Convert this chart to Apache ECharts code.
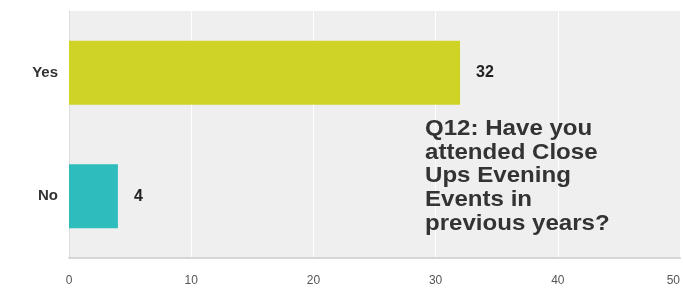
<!DOCTYPE html>
<html>
<head>
<meta charset="utf-8">
<script src="https://cdn.jsdelivr.net/npm/echarts@6/dist/echarts.min.js"></script>
<style>
  html, body { margin: 0; padding: 0; background: #fff; }
  #chart { width: 683px; height: 293px; }
</style>
</head>
<body>
<div id="chart"></div>
<script>
// survey answers, bottom to top as echarts draws category axes
var answers = ['No', 'Yes'];
var counts = [4, 32];
var barColors = ['#2ebcbd', '#cfd326'];
var xTicks = [0, 10, 20, 30, 40, 50];
var question = 'Q12: Have you\nattended Close\nUps Evening\nEvents in\nprevious years?';

var chart = echarts.init(document.getElementById('chart'));

var option = {
  animation: false,
  // question text sits inside the plot, slightly wide like the original
  graphic: [{
    type: 'text',
    left: 425,
    top: 117,
    scaleX: 1.12,
    z: 100,
    style: {
      text: question,
      fontFamily: 'Liberation Sans, Arial, sans-serif',
      fontSize: 21.5,
      fontWeight: 'bold',
      lineHeight: 23.8,
      fill: '#333'
    }
  }],
  grid: {
    left: 69,
    right: 3,
    top: 11,
    bottom: 35,
    outerBoundsMode: 'none',
    containLabel: false,
    show: true,
    backgroundColor: '#efefef',
    borderWidth: 0
  },
  xAxis: {
    type: 'value',
    min: xTicks[0],
    max: xTicks[xTicks.length - 1],
    interval: 10,
    axisLine: { show: true, lineStyle: { color: '#d6d6d6', width: 2 } },
    axisTick: { show: false },
    splitLine: { show: true, lineStyle: { color: '#ffffff', width: 1 } },
    axisLabel: {
      margin: 17,
      alignMaxLabel: 'right',
      fontFamily: 'Liberation Sans, Arial, sans-serif',
      fontSize: 12,
      color: '#555'
    }
  },
  yAxis: {
    type: 'category',
    data: answers,
    axisLine: { show: true, lineStyle: { color: '#dcdcdc', width: 1 } },
    axisTick: { show: false },
    axisLabel: {
      margin: 11,
      fontFamily: 'Liberation Sans, Arial, sans-serif',
      fontSize: 15,
      fontWeight: 'bold',
      color: '#333'
    }
  },
  series: [
    {
      type: 'bar',
      barWidth: '52%',
      data: counts.map(function (v, i) {
        return { value: v, itemStyle: { color: barColors[i] } };
      }),
      label: {
        show: true,
        position: 'right',
        distance: 16,
        fontFamily: 'Liberation Sans Narrow, Liberation Sans, Arial, sans-serif',
        fontSize: 16,
        fontWeight: 'bold',
        color: '#222'
      }
    }
  ]
};

chart.setOption(option);
</script>
</body>
</html>
